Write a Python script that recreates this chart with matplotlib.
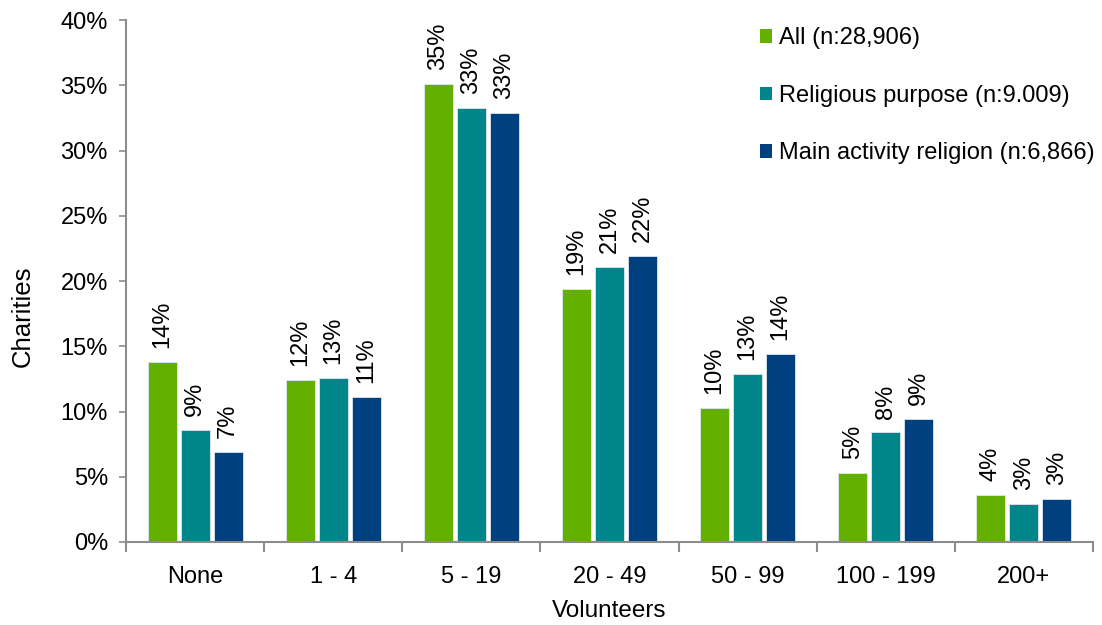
import numpy as np
import matplotlib
matplotlib.use("Agg")
from matplotlib import pyplot as plt
from matplotlib.patches import Patch

plt.rcParams['font.family'] = ['Liberation Sans', 'DejaVu Sans']

categories = ["None", "1 - 4", "5 - 19", "20 - 49", "50 - 99", "100 - 199", "200+"]
series_names = ["All (n:28,906)", "Religious purpose (n:9.009)", "Main activity religion (n:6,866)"]
all_vals = [13.8, 12.4, 35.1, 19.4, 10.3, 5.3, 3.6]
religious_vals = [8.6, 12.55, 33.3, 21.1, 12.9, 8.4, 2.9]
main_vals = [6.9, 11.1, 32.9, 21.9, 14.4, 9.4, 3.3]
colors = ["#63B000", "#00858A", "#003F80"]

fig = plt.figure(figsize=(11.02, 6.25), dpi=100)
ax = fig.add_axes([0.1143, 0.1328, 0.8775, 0.835])

x = np.arange(len(categories))
width = 0.21
pitch = 0.239
gray = "#8C8C8C"

for i, (vals, col) in enumerate(zip([all_vals, religious_vals, main_vals], colors)):
    pos = x + (i - 1) * pitch
    ax.bar(pos, vals, width, color=col, edgecolor="#DDE8EE", linewidth=0.6)
    for px, v in zip(pos, vals):
        ax.annotate(f"{v:.0f}%", (px, v), xytext=(0, 10), textcoords="offset points",
                    rotation=90, ha="center", va="bottom", fontsize=17, color="black")

ax.set_xlim(-0.5, len(categories) - 0.5)
ax.set_ylim(0, 40)
ax.set_yticks(np.arange(0, 41, 5))
ax.set_yticklabels([f"{t}%" for t in range(0, 41, 5)], fontsize=17)
ax.set_xticks(x)
ax.set_xticklabels(categories, fontsize=17)
ax.tick_params(axis="x", length=0, pad=17)
ax.set_xticks(np.arange(-0.5, len(categories), 1), minor=True)
ax.tick_params(axis="x", which="minor", length=7, color=gray, width=1.5, direction="out")
ax.tick_params(axis="y", length=5, color=gray, width=1.2, pad=8)

for s in ["top", "right"]:
    ax.spines[s].set_visible(False)
for s in ["left", "bottom"]:
    ax.spines[s].set_color(gray)
    ax.spines[s].set_linewidth(1.5)

ax.set_ylabel("Charities", fontsize=18.5)
ax.yaxis.set_label_coords(-0.094, 0.433)
ax.set_xlabel("Volunteers", fontsize=17.5, labelpad=9)

handles = [Patch(facecolor=c, edgecolor="none") for c in colors]
ax.legend(handles, series_names, loc="upper left", bbox_to_anchor=(0.646, 1.004),
          frameon=False, fontsize=17, handlelength=0.5, handleheight=0.5,
          handletextpad=0.3, labelspacing=1.5, borderaxespad=0)

fig.savefig("out.png", dpi=100)
